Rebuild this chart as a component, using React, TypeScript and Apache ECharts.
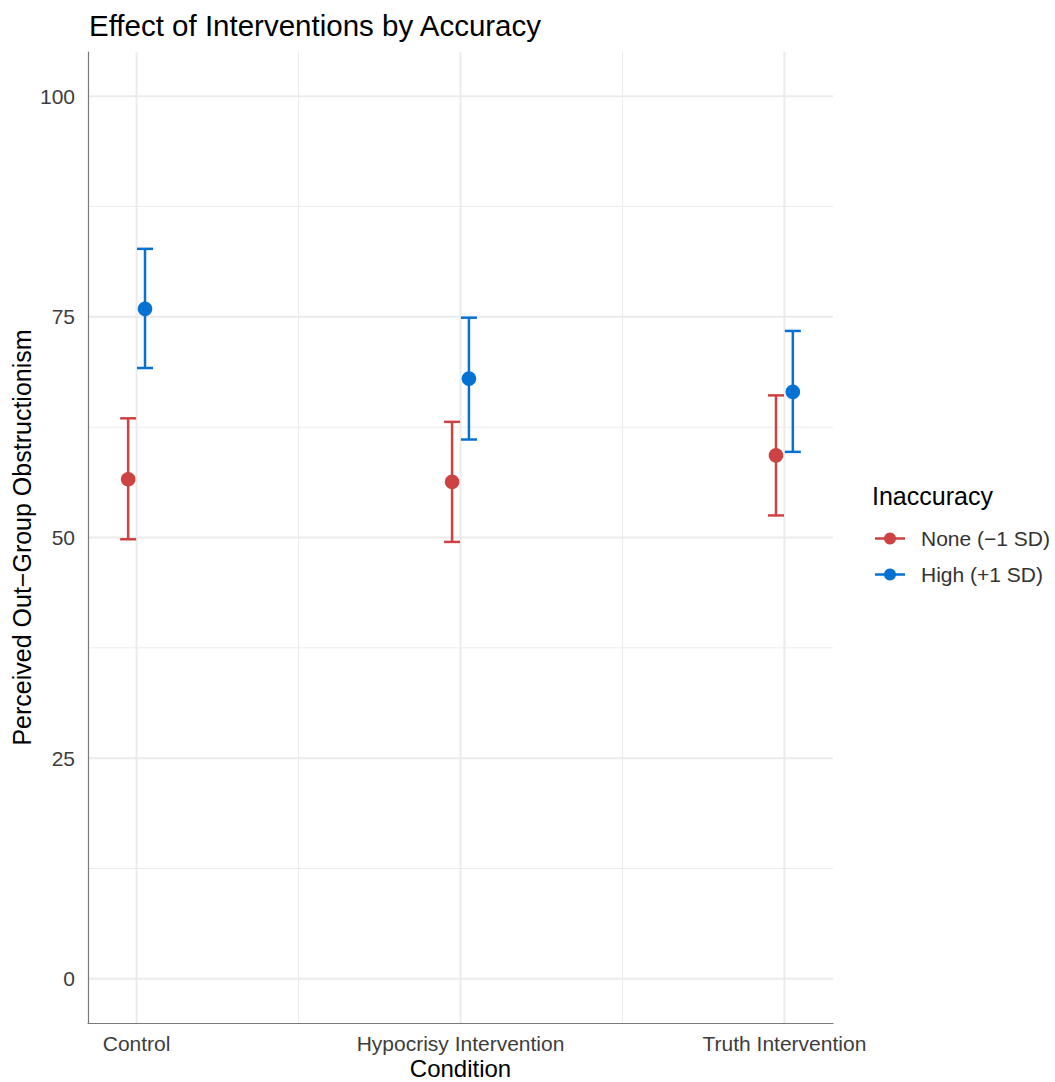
import React, { useEffect, useRef } from "react";
import * as echarts from "echarts";

const conditions = ["Control", "Hypocrisy Intervention", "Truth Intervention"];
const conditionPos = [1, 2, 3];
const seriesNames = ["None (\u22121 SD)", "High (+1 SD)"];
const noneMean = [56.6, 56.3, 59.3];
const noneLower = [49.8, 49.5, 52.5];
const noneUpper = [63.5, 63.1, 66.1];
const highMean = [75.9, 68.0, 66.5];
const highLower = [69.2, 61.1, 59.7];
const highUpper = [82.7, 74.9, 73.4];
const yTicks = [0, 25, 50, 75, 100];
const yMinorTicks = [12.5, 37.5, 62.5, 87.5];
const xMinorTicks = [1.5, 2.5];

const FONT = "'Liberation Sans', Arial, Helvetica, sans-serif";
const RED = "#CD4242";
const BLUE = "#0571D3";
const DODGE = 0.026;

function buildData(mean: number[], lo: number[], hi: number[], off: number) {
  return conditionPos.map((p, i) => [p + off, mean[i], lo[i], hi[i]]);
}

export default function App() {
  const ref = useRef<HTMLDivElement>(null);
  useEffect(() => {
    if (!ref.current) return;
    const chart = echarts.init(ref.current, null, { renderer: "svg" });

    const errRender = (color: string) => (params: any, api: any) => {
      const x = api.value(0);
      const pm = api.coord([x, api.value(1)]);
      const pl = api.coord([x, api.value(2)]);
      const ph = api.coord([x, api.value(3)]);
      const cap = 8;
      const ls = { stroke: color, lineWidth: 2.5 };
      return {
        type: "group",
        children: [
          { type: "line", shape: { x1: pl[0], y1: pl[1], x2: ph[0], y2: ph[1] }, style: ls },
          { type: "line", shape: { x1: pl[0] - cap, y1: pl[1], x2: pl[0] + cap, y2: pl[1] }, style: ls },
          { type: "line", shape: { x1: ph[0] - cap, y1: ph[1], x2: ph[0] + cap, y2: ph[1] }, style: ls },
          { type: "circle", shape: { cx: pm[0], cy: pm[1], r: 7.3 }, style: { fill: color } },
        ],
      };
    };

    const hGrid = (width: number) => (params: any, api: any) => {
      const p = api.coord([1, api.value(0)]);
      const cs = params.coordSys;
      return {
        type: "line",
        shape: { x1: cs.x, y1: p[1], x2: cs.x + cs.width, y2: p[1] },
        style: { stroke: "#EBEBEB", lineWidth: width },
      };
    };
    const vGrid = (width: number) => (params: any, api: any) => {
      const p = api.coord([api.value(0), 50]);
      const cs = params.coordSys;
      return {
        type: "line",
        shape: { x1: p[0], y1: cs.y, x2: p[0], y2: cs.y + cs.height },
        style: { stroke: "#EBEBEB", lineWidth: width },
      };
    };

    const legendIcon =
      "path://M0,5.75L30,5.75L30,8.25L0,8.25Z M15,1 A6,6 0 1 1 14.99,1 Z";

    chart.setOption({
      animation: false,
      backgroundColor: "#ffffff",
      title: [
        {
          text: "Effect of Interventions by Accuracy",
          left: 89,
          top: 10,
          padding: 0,
          textStyle: { fontFamily: FONT, fontSize: 29.5, fontWeight: "normal", color: "#000" },
        },
        {
          text: "Inaccuracy",
          left: 872,
          top: 483,
          padding: 0,
          textStyle: { fontFamily: FONT, fontSize: 25, fontWeight: "normal", color: "#000" },
        },
      ],
      legend: {
        data: seriesNames,
        orient: "vertical",
        left: 875,
        top: 528,
        padding: 0,
        itemWidth: 30,
        itemHeight: 14,
        itemGap: 15,
        icon: legendIcon,
        textStyle: { fontFamily: FONT, fontSize: 21, color: "#333", padding: [0, 0, 0, 11] },
      },
      grid: { left: 88, width: 745, top: 52, height: 971, containLabel: false, outerBoundsMode: "none" },
      xAxis: {
        type: "value",
        min: 0.85,
        max: 3.15,
        name: "Condition",
        nameLocation: "middle",
        nameGap: 33,
        nameMoveOverlap: false,
        nameTextStyle: { fontFamily: FONT, fontSize: 24, color: "#000" },
        axisLine: { show: true, onZero: false, lineStyle: { color: "#7a7a7a", width: 1.2 } },
        axisTick: { show: false },
        splitLine: { show: false },
        axisLabel: {
          customValues: conditionPos,
          formatter: (v: number) => conditions[Math.round(v) - 1] ?? "",
          fontFamily: FONT,
          fontSize: 21,
          color: "#3d3d3d",
          margin: 10,
        },
      },
      yAxis: {
        type: "value",
        min: -5,
        max: 105,
        name: "Perceived Out\u2212Group Obstructionism",
        nameLocation: "middle",
        nameGap: 54,
        nameMoveOverlap: false,
        nameTextStyle: { fontFamily: FONT, fontSize: 25, color: "#000" },
        axisLine: { show: true, onZero: false, lineStyle: { color: "#7a7a7a", width: 1.2 } },
        axisTick: { show: false },
        splitLine: { show: false },
        axisLabel: {
          customValues: yTicks,
          fontFamily: FONT,
          fontSize: 21,
          color: "#3d3d3d",
          margin: 13,
        },
      },
      series: [
        { type: "custom", name: "gridYMinor", silent: true, z: 0, data: yMinorTicks.map((v) => [v]), renderItem: hGrid(1), encode: { y: 0 } },
        { type: "custom", name: "gridXMinor", silent: true, z: 0, data: xMinorTicks.map((v) => [v]), renderItem: vGrid(1), encode: { x: 0 } },
        { type: "custom", name: "gridYMajor", silent: true, z: 0, data: yTicks.map((v) => [v]), renderItem: hGrid(2), encode: { y: 0 } },
        { type: "custom", name: "gridXMajor", silent: true, z: 0, data: conditionPos.map((v) => [v]), renderItem: vGrid(2), encode: { x: 0 } },
        {
          type: "custom",
          name: seriesNames[0],
          z: 5,
          itemStyle: { color: RED },
          data: buildData(noneMean, noneLower, noneUpper, -DODGE),
          renderItem: errRender(RED),
          encode: { x: 0, y: [1, 2, 3] },
        },
        {
          type: "custom",
          name: seriesNames[1],
          z: 5,
          itemStyle: { color: BLUE },
          data: buildData(highMean, highLower, highUpper, DODGE),
          renderItem: errRender(BLUE),
          encode: { x: 0, y: [1, 2, 3] },
        },
      ],
    });
    return () => chart.dispose();
  }, []);
  return (
    <div
      ref={ref}
      style={{ position: "fixed", left: 0, top: 0, width: 1055, height: 1082 }}
    />
  );
}
